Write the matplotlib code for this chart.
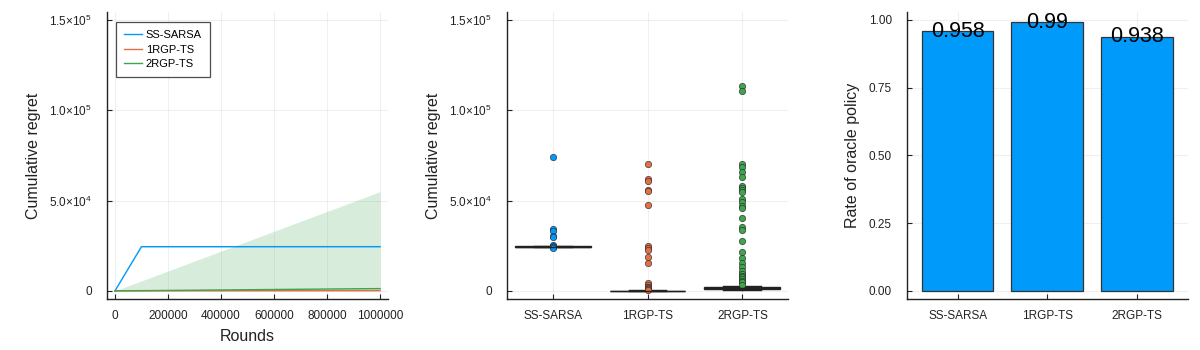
import numpy as np
import matplotlib
matplotlib.use("Agg")
import matplotlib.pyplot as plt

plt.rcParams['font.family'] = ['Liberation Sans', 'DejaVu Sans']
plt.rcParams['mathtext.fontset'] = 'custom'
plt.rcParams['mathtext.rm'] = 'Liberation Sans'
plt.rcParams['mathtext.it'] = 'Liberation Sans'

# ---------------- data ----------------
methods = ["SS-SARSA", "1RGP-TS", "2RGP-TS"]
colors = ["#009AFA", "#E36F47", "#3EA44E"]

rounds = [0, 100000, 200000, 300000, 400000, 500000, 600000, 700000, 800000, 900000, 1000000]
sarsa_mean = [0, 24500, 24500, 24500, 24500, 24500, 24500, 24500, 24500, 24500, 24500]
sarsa_lo = [0, 24200, 24200, 24200, 24200, 24200, 24200, 24200, 24200, 24200, 24200]
sarsa_hi = [0, 24800, 24800, 24800, 24800, 24800, 24800, 24800, 24800, 24800, 24800]
rgp1_mean = [0, 20, 40, 60, 80, 100, 120, 140, 160, 180, 200]
rgp1_lo = [0, -40, -80, -120, -160, -200, -240, -280, -320, -360, -400]
rgp1_hi = [0, 60, 120, 180, 240, 300, 360, 420, 480, 540, 600]
rgp2_mean = [0, 130, 250, 380, 510, 640, 760, 890, 1020, 1150, 1270]
rgp2_lo = [0, 0, 0, 0, 0, 0, 0, 0, 0, 0, 0]
rgp2_hi = [0, 5500, 11000, 16500, 22000, 27500, 33000, 38500, 44000, 49500, 55000]

# box plot summaries (final cumulative regret)
box_med = [24500, 100, 1400]
box_q1 = [24400, 0, 900]
box_q3 = [24600, 200, 1900]
box_whislo = [24300, 0, 300]
box_whishi = [24700, 300, 2700]
fliers_sarsa = [74400, 34400, 33000, 30500, 29600, 25200, 24800, 24300, 24000]
fliers_rgp1 = [70500, 61800, 61000, 55800, 55500, 47500, 24900, 23500, 22600, 18600, 15500,
               4600, 3500, 2400, 2000, 1600, 800, 300]
fliers_rgp2 = [113300, 111000, 70200, 68500, 65900, 63200, 58000, 57000, 55800, 55000,
               50700, 49500, 47000, 46000, 40200, 35500, 33800, 27800, 21700, 18100,
               15500, 13000, 11200, 9500, 8500, 7500, 6500, 5500, 4800, 3000]

oracle_rate = [0.958, 0.99, 0.938]

# ---------------- figure ----------------
fig = plt.figure(figsize=(12, 3.5), dpi=100)
W, H = 1200, 350

def add_ax(left_px):
    return fig.add_axes([left_px / W, 1 - 299 / H, 281 / W, 287 / H])

ax1 = add_ax(107)
ax2 = add_ax(507)
ax3 = add_ax(907)

def style(ax):
    for s in ['top', 'right']:
        ax.spines[s].set_visible(False)
    for s in ['left', 'bottom']:
        ax.spines[s].set_linewidth(1.0)
        ax.spines[s].set_color('#222222')
    ax.tick_params(direction='in', length=3.5, width=0.8, labelsize=8.5, colors='#222222',
                   labelcolor='#222222')
    ax.tick_params(axis='x', pad=8)
    ax.tick_params(axis='y', pad=11)
    ax.grid(True, color='#000000', alpha=0.06, linewidth=0.8)
    ax.set_axisbelow(True)

ytick_vals = [0, 50000, 100000, 150000]
ytick_labels = ['0', r'$5.0{\times}10^{4}$', r'$1.0{\times}10^{5}$', r'$1.5{\times}10^{5}$']

# Panel 1
style(ax1)
series = [(sarsa_mean, sarsa_lo, sarsa_hi), (rgp1_mean, rgp1_lo, rgp1_hi), (rgp2_mean, rgp2_lo, rgp2_hi)]
for (m, lo, hi), c in zip(series, colors):
    ax1.fill_between(rounds, lo, hi, color=c, alpha=0.2, linewidth=0)
for (m, lo, hi), c, name in zip(series, colors, methods):
    ax1.plot(rounds, m, color=c, linewidth=1.0, label=name)
ax1.set_xlim(-30000, 1030000)
ax1.set_ylim(-4500, 154500)
ax1.set_xticks([0, 200000, 400000, 600000, 800000, 1000000])
ax1.set_xticklabels(['0', '200000', '400000', '600000', '800000', '1000000'])
ax1.set_yticks(ytick_vals)
ax1.set_yticklabels(ytick_labels)
ax1.set_xlabel('Rounds', fontsize=11.5, color='#222222', labelpad=5)
ax1.set_ylabel('Cumulative regret', fontsize=11.5, color='#222222')
ax1.yaxis.set_label_coords(-0.235, 0.5)
leg = ax1.legend(loc='upper left', bbox_to_anchor=(0.031, 0.966), borderaxespad=0,
                 fontsize=8, frameon=True, fancybox=False, edgecolor='#222222',
                 handlelength=1.6, borderpad=0.75, labelspacing=0.4, handletextpad=0.35)
leg.get_frame().set_linewidth(0.9)

# Panel 2
style(ax2)
positions = [0, 1, 2]
stats = []
for i, fl in enumerate([fliers_sarsa, fliers_rgp1, fliers_rgp2]):
    stats.append(dict(med=box_med[i], q1=box_q1[i], q3=box_q3[i], whislo=box_whislo[i],
                      whishi=box_whishi[i], fliers=fl))
bp = ax2.bxp(stats, positions=positions, widths=0.8, patch_artist=True, showcaps=True,
             boxprops=dict(linewidth=1.0, edgecolor='#222222'),
             medianprops=dict(color='#222222', linewidth=1.0),
             whiskerprops=dict(color='#222222', linewidth=1.0),
             capprops=dict(color='#222222', linewidth=1.0), capwidths=0.4,
             flierprops=dict(marker='o', markersize=4.6, markeredgecolor='#222222',
                             markeredgewidth=0.4, linestyle='none'))
for patch, c in zip(bp['boxes'], colors):
    patch.set_facecolor(c)
for fl, c in zip(bp['fliers'], colors):
    fl.set_markerfacecolor(c)
ax2.set_xlim(-0.48, 2.48)
ax2.set_ylim(-4500, 154500)
ax2.set_xticks(positions)
ax2.set_xticklabels(methods)
ax2.set_yticks(ytick_vals)
ax2.set_yticklabels(ytick_labels)
ax2.set_ylabel('Cumulative regret', fontsize=11.5, color='#222222')
ax2.yaxis.set_label_coords(-0.235, 0.5)

# Panel 3
style(ax3)
ax3.bar(positions, oracle_rate, width=0.8, color=colors[0], edgecolor='#333333', linewidth=0.9)
for x, v in zip(positions, oracle_rate):
    ax3.text(x, v, f'{v:g}', ha='center', va='center', fontsize=15.5, color='black')
ax3.set_xlim(-0.566, 2.573)
ax3.set_ylim(-0.0295, 1.0283)
ax3.set_xticks(positions)
ax3.set_xticklabels(methods)
ax3.set_yticks([0, 0.25, 0.5, 0.75, 1.0])
ax3.set_yticklabels(['0.00', '0.25', '0.50', '0.75', '1.00'])
ax3.set_ylabel('Rate of oracle policy', fontsize=11.5, color='#222222')
ax3.yaxis.set_label_coords(-0.168, 0.5)

fig.savefig('out.png', dpi=100)
